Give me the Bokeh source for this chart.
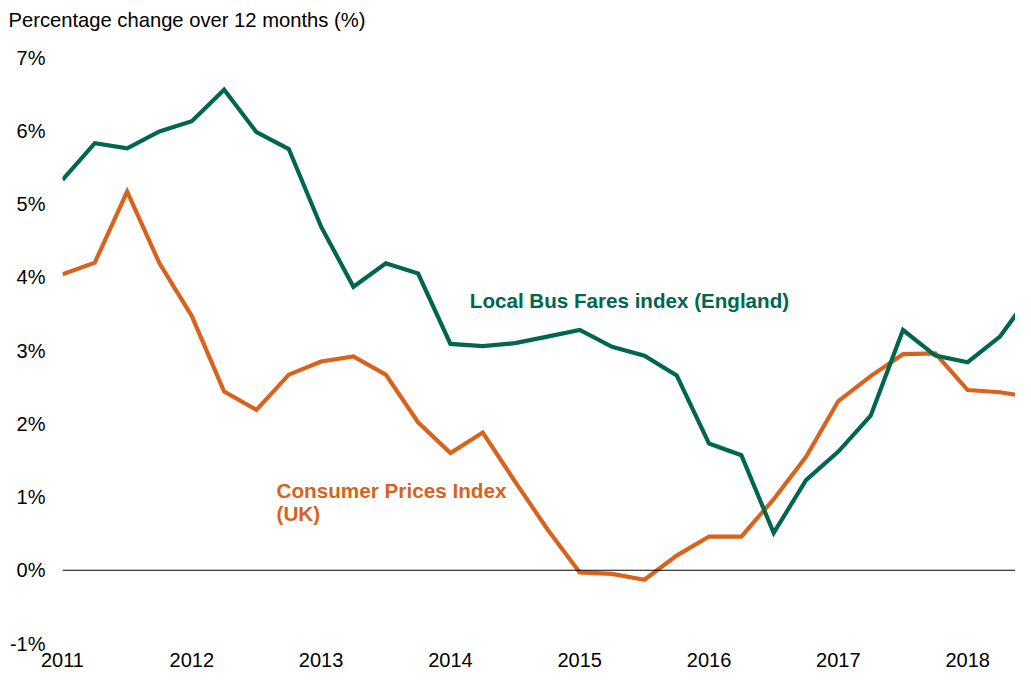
from bokeh.plotting import figure
from bokeh.models import Span, Label, FixedTicker, Range1d, Title
from bokeh.embed import file_html
from bokeh.resources import INLINE

# Quarterly periods (decimal years)
periods = [2011.0, 2011.25, 2011.5, 2011.75,
           2012.0, 2012.25, 2012.5, 2012.75,
           2013.0, 2013.25, 2013.5, 2013.75,
           2014.0, 2014.25, 2014.5, 2014.75,
           2015.0, 2015.25, 2015.5, 2015.75,
           2016.0, 2016.25, 2016.5, 2016.75,
           2017.0, 2017.25, 2017.5, 2017.75,
           2018.0, 2018.25, 2018.5]

bus_fares = [5.33, 5.83, 5.76, 5.99,
             6.13, 6.56, 5.98, 5.75,
             4.69, 3.87, 4.19, 4.05,
             3.09, 3.06, 3.10, 3.19,
             3.28, 3.05, 2.93, 2.66,
             1.73, 1.57, 0.51, 1.23,
             1.62, 2.11, 3.28, 2.93,
             2.84, 3.19, 3.80]

cpi = [4.04, 4.20, 5.17, 4.19,
       3.47, 2.44, 2.19, 2.67,
       2.85, 2.92, 2.67, 2.02,
       1.60, 1.88, 1.21, 0.56,
       -0.03, -0.05, -0.13, 0.20,
       0.46, 0.46, 0.97, 1.55,
       2.31, 2.65, 2.95, 2.96,
       2.46, 2.43, 2.36]

year_ticks = [2011, 2012, 2013, 2014, 2015, 2016, 2017, 2018]
pct_ticks = [-1, 0, 1, 2, 3, 4, 5, 6, 7]

GREEN = "#00664F"
ORANGE = "#D9621C"
FONT = "Liberation Sans"

p = figure(width=1015, height=674, output_backend="svg", toolbar_location=None,
           x_range=Range1d(2011, 2018.37), y_range=Range1d(-1, 7),
           min_border_left=62, min_border_right=0, min_border_top=57,
           min_border_bottom=31)
p.title = None

# spacer (closest to the frame), then the caption above it
p.add_layout(Title(text=" ", standoff=3, text_font=FONT, text_font_size="20.2px"), "above")
p.add_layout(Title(text="Percentage change over 12 months (%)", align="left", offset=-54,
                   standoff=0, text_font=FONT, text_font_size="20.2px",
                   text_font_style="normal", text_color="#000000"), "above")

p.outline_line_color = None
p.xgrid.grid_line_color = None
p.ygrid.grid_line_color = None
p.background_fill_color = "white"
p.border_fill_color = "white"

for ax in (p.xaxis[0], p.yaxis[0]):
    ax.axis_line_color = None
    ax.major_tick_line_color = None
    ax.minor_tick_line_color = None
    ax.major_tick_in = 0
    ax.major_tick_out = 0
    ax.minor_tick_in = 0
    ax.minor_tick_out = 0
    ax.major_label_text_font = FONT
    ax.major_label_text_font_size = "20px"
    ax.major_label_text_color = "#000000"

p.xaxis.ticker = FixedTicker(ticks=year_ticks)
p.xaxis.major_label_overrides = {y: str(y) for y in year_ticks}
p.xaxis.major_label_standoff = 9

p.yaxis.ticker = FixedTicker(ticks=pct_ticks)
p.yaxis.major_label_overrides = {v: f"{v}%" for v in pct_ticks}
p.yaxis.major_label_standoff = 17

p.add_layout(Span(location=0, dimension="width", line_color="black", line_width=1))

p.line(periods, cpi, line_color=ORANGE, line_width=4.2, line_join="miter")
p.line(periods, bus_fares, line_color=GREEN, line_width=4.2, line_join="miter")

p.add_layout(Label(x=2014.15, y=3.68, text="Local Bus Fares index (England)",
                   text_color=GREEN, text_font=FONT, text_font_size="20.6px",
                   text_font_style="bold", text_baseline="middle"))
p.add_layout(Label(x=2012.655, y=1.09, text="Consumer Prices Index",
                   text_color=ORANGE, text_font=FONT, text_font_size="20.7px",
                   text_font_style="bold", text_baseline="middle"))
p.add_layout(Label(x=2012.655, y=0.78, text="(UK)",
                   text_color=ORANGE, text_font=FONT, text_font_size="20.7px",
                   text_font_style="bold", text_baseline="middle"))

open("out.html", "w").write(file_html(p, INLINE))
